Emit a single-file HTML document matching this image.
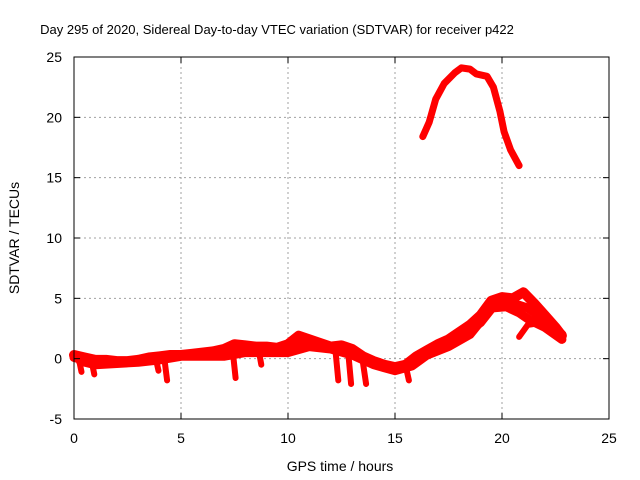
<!DOCTYPE html>
<html><head><meta charset="utf-8"><style>
html,body{margin:0;padding:0;background:#fff;}
svg{display:block;font-family:"Liberation Sans",sans-serif;}
</style></head><body>
<svg id="chart" width="640" height="480">
<rect x="0" y="0" width="640" height="480" fill="#fff"/>
<text x="277" y="34" font-size="13" text-anchor="middle" fill="#000">Day 295 of 2020, Sidereal Day-to-day VTEC variation (SDTVAR) for receiver p422</text>
<g id="grid"></g>
<g id="series"></g>
<rect x="74" y="57" width="535" height="362" fill="none" stroke="#000" stroke-width="1"/>
<g id="ticks"></g>
<text x="340" y="471" font-size="14" text-anchor="middle">GPS time / hours</text>
<text transform="translate(19,238) rotate(-90)" font-size="14" text-anchor="middle">SDTVAR / TECUs</text>
</svg>
<script>
const xTicks=[0,5,10,15,20,25];
const yTicks=[-5,0,5,10,15,20,25];
const arcHours=[16.3,16.6,16.9,17.3,17.8,18.1,18.5,18.8,19.3,19.6,19.9,20.1,20.4,20.8];
const arcValues=[18.4,19.6,21.5,22.8,23.7,24.1,24.0,23.6,23.4,22.5,20.5,18.8,17.3,16.0];
const mainHours=[0,0.5,1,1.5,2,2.5,3,3.5,4,4.5,5,5.5,6,6.5,7,7.5,8,8.5,9,9.5,10,10.5,11,11.5,12,12.5,13,13.5,14,14.5,15,15.5,16,16.5,17,17.5,18,18.5,19,19.5,20,20.5,21,21.5,22,22.5,22.8];
const mainValues=[0.3,0.1,-0.1,-0.1,-0.2,-0.2,-0.1,0.1,0.2,0.3,0.3,0.4,0.5,0.6,0.8,1.2,1.1,1.0,1.0,0.9,1.2,1.9,1.6,1.3,1.0,1.1,0.8,0.2,-0.2,-0.5,-0.7,-0.5,0.2,0.7,1.2,1.6,2.2,2.8,3.6,4.8,5.1,5.0,5.5,4.6,3.6,2.6,1.9];
const midHours=[0,1,2,3,4,5,6,7,8,9,10,11,12,13,14,15,16,17,18,19,19.8,20.5,21.2,22,22.8];
const midValues=[0.1,-0.3,-0.3,-0.2,0,0.3,0.4,0.6,0.9,0.8,0.8,1.3,1.0,0.6,-0.3,-0.8,-0.1,0.9,1.7,3.0,4.8,4.6,4.2,3.2,2.0];
const lowHours=[0.3,1,2,3,4,5,6,7,8,9,10,11,12,13,14,15,15.8,16.5,17.5,18.5,19.5,20.2,20.8,21.3,22,22.8];
const lowValues=[-0.2,-0.5,-0.4,-0.3,-0.1,0.2,0.2,0.2,0.5,0.5,0.5,1.0,0.8,0.3,-0.5,-1.0,-0.6,0.3,1.0,2.0,4.2,4.3,3.8,3.2,2.6,1.6];
const branchHours=[20.8,21.2,21.6,22.1,22.6];
const branchValues=[1.8,2.8,2.9,2.7,2.2];
const dropStart=[0.2,0.8,3.8,4.2,7.4,8.6,12.2,12.8,13.5,15.5];
const dropStartVal=[0.2,0,0.2,0.3,0.9,1.0,1.0,0.8,-0.3,-0.6];
const dropEnd=[-1.1,-1.3,-1.0,-1.8,-1.6,-0.5,-1.8,-2.1,-2.1,-1.8];

const X0=74,X1=609,Y0=419,Y1=57;
function xs(h){return X0+(h-0)/(25-0)*(X1-X0);}
function ys(v){return Y0-(v-(-5))/(25-(-5))*(Y0-Y1);}
const NS='http://www.w3.org/2000/svg';
const grid=document.getElementById('grid'),ticks=document.getElementById('ticks'),ser=document.getElementById('series');
function mk(t,a,p){const e=document.createElementNS(NS,t);for(const k in a)e.setAttribute(k,a[k]);p.appendChild(e);return e;}
xTicks.forEach(t=>{
 const x=xs(t);
 if(t>0&&t<25){const g=mk('line',{x1:x,y1:Y1,x2:x,y2:Y0,stroke:'#a0a0a0','stroke-dasharray':'2,3'},grid);
 
 }
 mk('line',{x1:x,y1:Y0,x2:x,y2:Y0-6,stroke:'#000'},ticks);
 mk('line',{x1:x,y1:Y1,x2:x,y2:Y1+6,stroke:'#000'},ticks);
 const l=mk('text',{x:x,y:443,'font-size':14,'text-anchor':'middle'},ticks);l.textContent=t;
 
 
});
yTicks.forEach(t=>{
 const y=ys(t);
 if(t>-5&&t<25){const g=mk('line',{x1:X0,y1:y,x2:X1,y2:y,stroke:'#a0a0a0','stroke-dasharray':'2,3'},grid);
 
 }
 mk('line',{x1:X0,y1:y,x2:X0+6,y2:y,stroke:'#000'},ticks);
 mk('line',{x1:X1,y1:y,x2:X1-6,y2:y,stroke:'#000'},ticks);
 const l=mk('text',{x:62,y:y+5,'font-size':14,'text-anchor':'end'},ticks);l.textContent=t;
 
 
});
function line(hs,vs,name,w){
 const pts=hs.map((h,i)=>xs(h).toFixed(1)+','+ys(vs[i]).toFixed(1)).join(' ');
 const p=mk('polyline',{points:pts,fill:'none',stroke:'#ff0000','stroke-width':w,'stroke-linejoin':'round','stroke-linecap':'round'},ser);
 
 
}
line(arcHours,arcValues,'sdtvar-arc-series',7);
line(mainHours,mainValues,'sdtvar-main-series',10);
line(midHours,midValues,'sdtvar-mid-series',9);
line(lowHours,lowValues,'sdtvar-low-series',9);
line(branchHours,branchValues,'sdtvar-branch-series',6);
dropStart.forEach((h,i)=>{
 line([h,h+0.15],[dropStartVal[i],dropEnd[i]],'sdtvar-drop',6);
});
</script>
</body></html>
